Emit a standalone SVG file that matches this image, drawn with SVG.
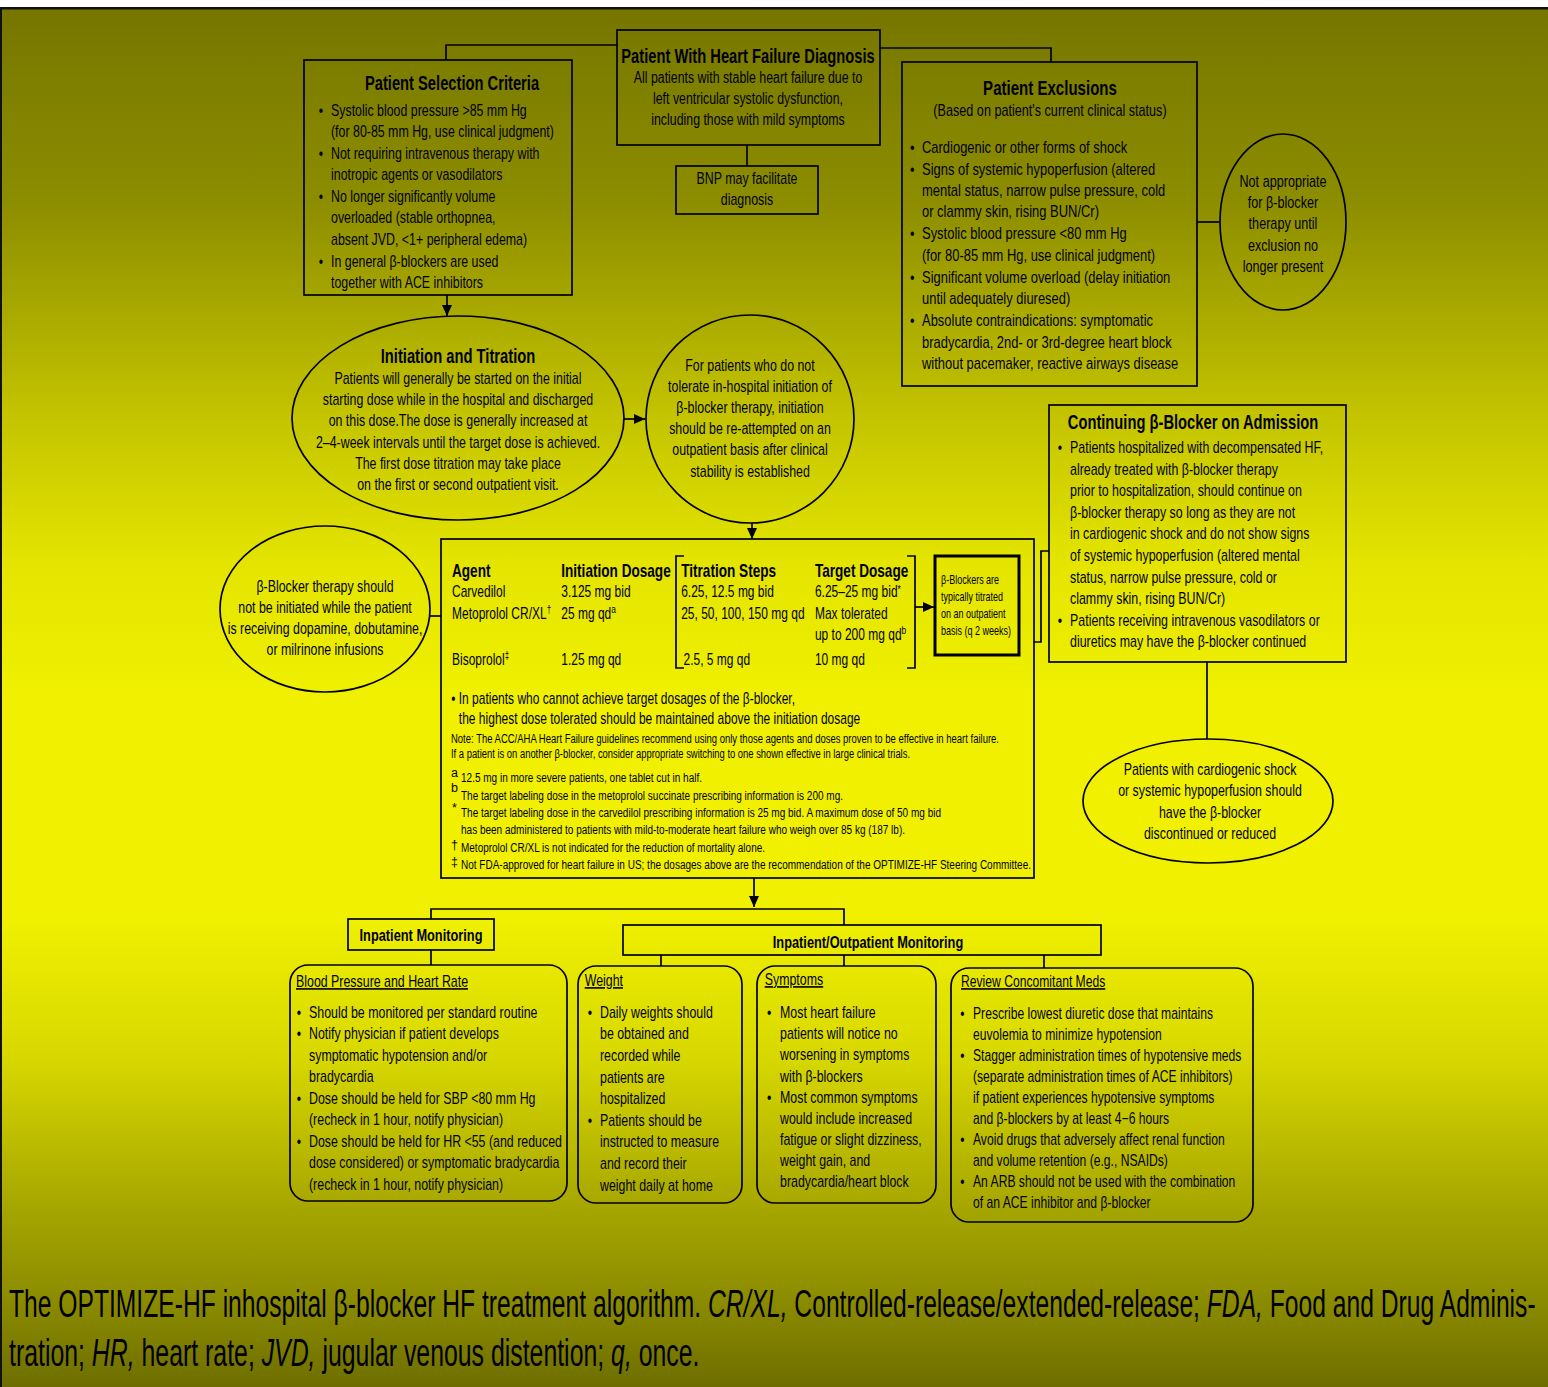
<svg xmlns="http://www.w3.org/2000/svg" width="1548" height="1387" viewBox="0 0 1548 1387">
<defs>
<linearGradient id="bg" gradientUnits="userSpaceOnUse" x1="0" y1="9" x2="0" y2="1387">
<stop offset="0" stop-color="#767600"/>
<stop offset="0.14" stop-color="#8d8d00"/>
<stop offset="0.29" stop-color="#c2c200"/>
<stop offset="0.40" stop-color="#e4e400"/>
<stop offset="0.50" stop-color="#f0f000"/>
<stop offset="0.66" stop-color="#f0f000"/>
<stop offset="0.76" stop-color="#d8d800"/>
<stop offset="0.87" stop-color="#a6a600"/>
<stop offset="0.94" stop-color="#8a8a00"/>
<stop offset="1" stop-color="#6e6e00"/>
</linearGradient>
<marker id="ah" markerUnits="userSpaceOnUse" markerWidth="11" markerHeight="10" refX="11" refY="5" orient="auto">
<path d="M0,0 L11,5 L0,10 z" fill="#000"/>
</marker>
<style>
text{font-family:"Liberation Sans",Arial,sans-serif;fill:#000}
.b{font-size:16.2px}
.h{font-size:19.3px;font-weight:bold}
.th{font-size:17.8px;font-weight:bold}
.tb{font-size:15.7px}
.m{font-size:16.8px;font-weight:bold}
.sm{font-size:12.5px}
.n{font-size:12.5px}
.c{text-anchor:middle}
.u{text-decoration:underline}
.box{fill:none;stroke:#000;stroke-width:1.7}
.thick{fill:none;stroke:#000;stroke-width:3}
.ln{fill:none;stroke:#000;stroke-width:1.7}
.arr{fill:none;stroke:#000;stroke-width:1.7;marker-end:url(#ah)}
.cap{font-size:38px}
.it{font-style:italic}
</style>
</defs>
<rect x="0" y="0" width="1548" height="1387" fill="#ffffff"/>
<rect x="0" y="9" width="1548" height="1378" fill="url(#bg)"/>
<rect x="0" y="7" width="1548" height="2.5" fill="#111"/>
<rect x="0" y="7" width="2" height="1380" fill="#111"/>

<g id="connectors">
<path class="ln" d="M617 45 H446 V60"/>
<path class="ln" d="M880 48 H1051 V62"/>
<path class="ln" d="M747 145 V166"/>
<path class="arr" d="M447 295 V316"/>
<path class="arr" d="M624 419 H645"/>
<path class="arr" d="M752 523 V539"/>
<path class="ln" d="M1197 222 H1220"/>
<path class="ln" d="M430 616 H441"/>
<path class="ln" d="M1049 551 H1041 V642 H1034"/>
<path class="ln" d="M1207 662 V739"/>
<path class="arr" d="M915 607 H934"/>
<path class="arr" d="M754 878 V907"/>
<path class="ln" d="M431 919 V909 H844 V925"/>
<path class="ln" d="M431 950 V965"/>
<path class="ln" d="M661 955 V966"/>
<path class="ln" d="M844 955 V966"/>
<path class="ln" d="M1044 955 V968"/>
</g>

<g id="diagnosis">
<rect class="box" x="617" y="30" width="263" height="115"/>
<g transform="translate(748 0) scale(.763 1)">
<text class="h c" x="0" y="63">Patient With Heart Failure Diagnosis</text>
<text class="b c" x="0" y="83">All patients with stable heart failure due to</text>
<text class="b c" x="0" y="104">left ventricular systolic dysfunction,</text>
<text class="b c" x="0" y="125">including those with mild symptoms</text>
</g>
</g>

<g id="bnp">
<rect class="box" x="676" y="166" width="142" height="48"/>
<g transform="translate(747 0) scale(.765 1)">
<text class="b c" x="0" y="184">BNP may facilitate</text>
<text class="b c" x="0" y="205">diagnosis</text>
</g>
</g>

<g id="selection">
<rect class="box" x="304" y="60" width="268" height="235"/>
<g transform="translate(452 0) scale(.763 1)">
<text class="h c" x="0" y="90">Patient Selection Criteria</text>
</g>
<g transform="translate(331 0) scale(.765 1)">
<text class="b" x="-16" y="116">•</text>
<text class="b" x="0" y="116">Systolic blood pressure &gt;85 mm Hg</text>
<text class="b" x="0" y="137">(for 80-85 mm Hg, use clinical judgment)</text>
<text class="b" x="-16" y="159">•</text>
<text class="b" x="0" y="159">Not requiring intravenous therapy with</text>
<text class="b" x="0" y="180">inotropic agents or vasodilators</text>
<text class="b" x="-16" y="202">•</text>
<text class="b" x="0" y="202">No longer significantly volume</text>
<text class="b" x="0" y="223">overloaded (stable orthopnea,</text>
<text class="b" x="0" y="245">absent JVD, &lt;1+ peripheral edema)</text>
<text class="b" x="-16" y="267">•</text>
<text class="b" x="0" y="267">In general β-blockers are used</text>
<text class="b" x="0" y="288">together with ACE inhibitors</text>
</g>
</g>

<g id="exclusions">
<rect class="box" x="902" y="62" width="295" height="324"/>
<g transform="translate(1050 0) scale(.78 1)">
<text class="h c" x="0" y="95">Patient Exclusions</text>
<text class="b c" x="0" y="116">(Based on patient's current clinical status)</text>
</g>
<g transform="translate(922 0) scale(.8 1)">
<text class="b" x="-15" y="153">•</text>
<text class="b" x="0" y="153">Cardiogenic or other forms of shock</text>
<text class="b" x="-15" y="175">•</text>
<text class="b" x="0" y="175">Signs of systemic hypoperfusion (altered</text>
<text class="b" x="0" y="196">mental status, narrow pulse pressure, cold</text>
<text class="b" x="0" y="217">or clammy skin, rising BUN/Cr)</text>
<text class="b" x="-15" y="239">•</text>
<text class="b" x="0" y="239">Systolic blood pressure &lt;80 mm Hg</text>
<text class="b" x="0" y="261">(for 80-85 mm Hg, use clinical judgment)</text>
<text class="b" x="-15" y="283">•</text>
<text class="b" x="0" y="283">Significant volume overload (delay initiation</text>
<text class="b" x="0" y="304">until adequately diuresed)</text>
<text class="b" x="-15" y="326">•</text>
<text class="b" x="0" y="326">Absolute contraindications: symptomatic</text>
<text class="b" x="0" y="348">bradycardia, 2nd- or 3rd-degree heart block</text>
<text class="b" x="0" y="369">without pacemaker, reactive airways disease</text>
</g>
</g>

<g id="not-appropriate">
<ellipse class="box" cx="1283" cy="222" rx="63" ry="88"/>
<g transform="translate(1283 0) scale(.78 1)">
<text class="b c" x="0" y="187">Not appropriate</text>
<text class="b c" x="0" y="208">for β-blocker</text>
<text class="b c" x="0" y="229">therapy until</text>
<text class="b c" x="0" y="251">exclusion no</text>
<text class="b c" x="0" y="272">longer present</text>
</g>
</g>

<g id="initiation">
<ellipse class="box" cx="458" cy="418" rx="166" ry="102"/>
<g transform="translate(458 0) scale(.765 1)">
<text class="h c" x="0" y="363">Initiation and Titration</text>
<text class="b c" x="0" y="384">Patients will generally be started on the initial</text>
<text class="b c" x="0" y="405">starting dose while in the hospital and discharged</text>
<text class="b c" x="0" y="426">on this dose.The dose is generally increased at</text>
<text class="b c" x="0" y="448">2–4-week intervals until the target dose is achieved.</text>
<text class="b c" x="0" y="469">The first dose titration may take place</text>
<text class="b c" x="0" y="490">on the first or second outpatient visit.</text>
</g>
</g>

<g id="not-tolerate">
<ellipse class="box" cx="750" cy="419" rx="104" ry="104"/>
<g transform="translate(750 0) scale(.765 1)">
<text class="b c" x="0" y="371">For patients who do not</text>
<text class="b c" x="0" y="392">tolerate in-hospital initiation of</text>
<text class="b c" x="0" y="413">β-blocker therapy, initiation</text>
<text class="b c" x="0" y="434">should be re-attempted on an</text>
<text class="b c" x="0" y="455">outpatient basis after clinical</text>
<text class="b c" x="0" y="477">stability is established</text>
</g>
</g>

<g id="inotropes">
<ellipse class="box" cx="325" cy="609" rx="105" ry="83"/>
<g transform="translate(325 0) scale(.765 1)">
<text class="b c" x="0" y="592">β-Blocker therapy should</text>
<text class="b c" x="0" y="613">not be initiated while the patient</text>
<text class="b c" x="0" y="634">is receiving dopamine, dobutamine,</text>
<text class="b c" x="0" y="655">or milrinone infusions</text>
</g>
</g>

<g id="dosing-table">
<rect class="box" x="441" y="539" width="593" height="339"/>
<path class="ln" d="M684 556 H676 V668 H684" stroke-width="2"/>
<path class="ln" d="M907 556 H915 V668 H907" stroke-width="2"/>
<g transform="translate(452 0) scale(.764 1)">
<text class="th" x="0" y="577">Agent</text>
<text class="th" x="143" y="577">Initiation Dosage</text>
<text class="th" x="300" y="577">Titration Steps</text>
<text class="th" x="475" y="577">Target Dosage</text>
<text class="tb" x="0" y="597">Carvedilol</text>
<text class="tb" x="143" y="597">3.125 mg bid</text>
<text class="tb" x="300" y="597">6.25, 12.5 mg bid</text>
<text class="tb" x="475" y="597">6.25–25 mg bid<tspan font-size="11" dy="-4">*</tspan></text>
<text class="tb" x="0" y="619">Metoprolol CR/XL<tspan font-size="10.5" dy="-6">†</tspan></text>
<text class="tb" x="143" y="619">25 mg qd<tspan font-size="11" dy="-6">a</tspan></text>
<text class="tb" x="300" y="619">25, 50, 100, 150 mg qd</text>
<text class="tb" x="475" y="619">Max tolerated</text>
<text class="tb" x="475" y="640">up to 200 mg qd<tspan font-size="11" dy="-6">b</tspan></text>
<text class="tb" x="0" y="665">Bisoprolol<tspan font-size="10.5" dy="-6">‡</tspan></text>
<text class="tb" x="143" y="665">1.25 mg qd</text>
<text class="tb" x="303" y="665">2.5, 5 mg qd</text>
<text class="tb" x="475" y="665">10 mg qd</text>
<text class="tb" x="-1" y="704">• In patients who cannot achieve target dosages of the β-blocker,</text>
<text class="tb" x="9" y="724">the highest dose tolerated should be maintained above the initiation dosage</text>
</g>
<text class="n" x="451" y="743" textLength="548" lengthAdjust="spacingAndGlyphs">Note: The ACC/AHA Heart Failure guidelines recommend using only those agents and doses proven to be effective in heart failure.</text>
<text class="n" x="451" y="758" textLength="459" lengthAdjust="spacingAndGlyphs">If a patient is on another β-blocker, consider appropriate switching to one shown effective in large clinical trials.</text>
<text class="n" x="451" y="777">a</text>
<text class="n" x="461" y="782" textLength="241" lengthAdjust="spacingAndGlyphs">12.5 mg in more severe patients, one tablet cut in half.</text>
<text class="n" x="451" y="792">b</text>
<text class="n" x="461" y="800" textLength="382" lengthAdjust="spacingAndGlyphs">The target labeling dose in the metoprolol succinate prescribing information is 200 mg.</text>
<text class="n" x="452" y="812">*</text>
<text class="n" x="461" y="817" textLength="480" lengthAdjust="spacingAndGlyphs">The target labeling dose in the carvedilol prescribing information is 25 mg bid. A maximum dose of 50 mg bid</text>
<text class="n" x="461" y="834" textLength="444" lengthAdjust="spacingAndGlyphs">has been administered to patients with mild-to-moderate heart failure who weigh over 85 kg (187 lb).</text>
<text class="n" x="451" y="849">†</text>
<text class="n" x="461" y="852" textLength="304" lengthAdjust="spacingAndGlyphs">Metoprolol CR/XL is not indicated for the reduction of mortality alone.</text>
<text class="n" x="451" y="866">‡</text>
<text class="n" x="461" y="869" textLength="570" lengthAdjust="spacingAndGlyphs">Not FDA-approved for heart failure in US; the dosages above are the recommendation of the OPTIMIZE-HF Steering Committee.</text>
</g>

<g id="outpatient-titration">
<rect class="thick" x="935" y="556" width="84" height="99"/>
<g transform="translate(941 0) scale(.72 1)">
<text class="sm" x="0" y="584">β-Blockers are</text>
<text class="sm" x="0" y="601">typically titrated</text>
<text class="sm" x="0" y="618">on an outpatient</text>
<text class="sm" x="0" y="635">basis (q 2 weeks)</text>
</g>
</g>

<g id="continuing">
<rect class="box" x="1049" y="405" width="297" height="257"/>
<g transform="translate(1193 0) scale(.763 1)">
<text class="h c" x="0" y="429">Continuing β-Blocker on Admission</text>
</g>
<g transform="translate(1070 0) scale(.767 1)">
<text class="b" x="-16" y="453">•</text>
<text class="b" x="0" y="453">Patients hospitalized with decompensated HF,</text>
<text class="b" x="0" y="475">already treated with β-blocker therapy</text>
<text class="b" x="0" y="496">prior to hospitalization, should continue on</text>
<text class="b" x="0" y="518">β-blocker therapy so long as they are not</text>
<text class="b" x="0" y="539">in cardiogenic shock and do not show signs</text>
<text class="b" x="0" y="561">of systemic hypoperfusion (altered mental</text>
<text class="b" x="0" y="583">status, narrow pulse pressure, cold or</text>
<text class="b" x="0" y="604">clammy skin, rising BUN/Cr)</text>
<text class="b" x="-16" y="626">•</text>
<text class="b" x="0" y="626">Patients receiving intravenous vasodilators or</text>
<text class="b" x="0" y="647">diuretics may have the β-blocker continued</text>
</g>
</g>

<g id="shock">
<ellipse class="box" cx="1208" cy="801" rx="125" ry="62"/>
<g transform="translate(1210 0) scale(.765 1)">
<text class="b c" x="0" y="775">Patients with cardiogenic shock</text>
<text class="b c" x="0" y="796">or systemic hypoperfusion should</text>
<text class="b c" x="0" y="818">have the β-blocker</text>
<text class="b c" x="0" y="839">discontinued or reduced</text>
</g>
</g>

<g id="inpatient-monitoring">
<rect class="box" x="348" y="919" width="146" height="31"/>
<g transform="translate(421 0) scale(.762 1)">
<text class="m c" x="0" y="941">Inpatient Monitoring</text>
</g>
</g>

<g id="inout-monitoring">
<rect class="box" x="623" y="925" width="478" height="30"/>
<g transform="translate(868 0) scale(.762 1)">
<text class="m c" x="0" y="948">Inpatient/Outpatient Monitoring</text>
</g>
</g>

<g id="bp-hr">
<rect class="box" x="290" y="965" width="277" height="236" rx="18"/>
<g transform="translate(309 0) scale(.765 1)">
<text class="b u" x="-17" y="987">Blood Pressure and Heart Rate</text>
<text class="b" x="-16" y="1018">•</text>
<text class="b" x="0" y="1018">Should be monitored per standard routine</text>
<text class="b" x="-16" y="1039">•</text>
<text class="b" x="0" y="1039">Notify physician if patient develops</text>
<text class="b" x="0" y="1061">symptomatic hypotension and/or</text>
<text class="b" x="0" y="1082">bradycardia</text>
<text class="b" x="-16" y="1104">•</text>
<text class="b" x="0" y="1104">Dose should be held for SBP &lt;80 mm Hg</text>
<text class="b" x="0" y="1125">(recheck in 1 hour, notify physician)</text>
<text class="b" x="-16" y="1147">•</text>
<text class="b" x="0" y="1147">Dose should be held for HR &lt;55 (and reduced</text>
<text class="b" x="0" y="1168">dose considered) or symptomatic bradycardia</text>
<text class="b" x="0" y="1190">(recheck in 1 hour, notify physician)</text>
</g>
</g>

<g id="weight">
<rect class="box" x="578" y="966" width="164" height="237" rx="18"/>
<g transform="translate(600 0) scale(.765 1)">
<text class="b u" x="-20" y="986">Weight</text>
<text class="b" x="-16" y="1018">•</text>
<text class="b" x="0" y="1018">Daily weights should</text>
<text class="b" x="0" y="1039">be obtained and</text>
<text class="b" x="0" y="1061">recorded while</text>
<text class="b" x="0" y="1083">patients are</text>
<text class="b" x="0" y="1104">hospitalized</text>
<text class="b" x="-16" y="1126">•</text>
<text class="b" x="0" y="1126">Patients should be</text>
<text class="b" x="0" y="1147">instructed to measure</text>
<text class="b" x="0" y="1169">and record their</text>
<text class="b" x="0" y="1191">weight daily at home</text>
</g>
</g>

<g id="symptoms">
<rect class="box" x="757" y="966" width="179" height="237" rx="18"/>
<g transform="translate(780 0) scale(.765 1)">
<text class="b u" x="-20" y="985">Symptoms</text>
<text class="b" x="-17" y="1018">•</text>
<text class="b" x="0" y="1018">Most heart failure</text>
<text class="b" x="0" y="1039">patients will notice no</text>
<text class="b" x="0" y="1060">worsening in symptoms</text>
<text class="b" x="0" y="1082">with β-blockers</text>
<text class="b" x="-17" y="1103">•</text>
<text class="b" x="0" y="1103">Most common symptoms</text>
<text class="b" x="0" y="1124">would include increased</text>
<text class="b" x="0" y="1145">fatigue or slight dizziness,</text>
<text class="b" x="0" y="1166">weight gain, and</text>
<text class="b" x="0" y="1187">bradycardia/heart block</text>
</g>
</g>

<g id="meds">
<rect class="box" x="951" y="968" width="302" height="254" rx="18"/>
<g transform="translate(973 0) scale(.75 1)">
<text class="b u" x="-16" y="987">Review Concomitant Meds</text>
<text class="b" x="-17" y="1019">•</text>
<text class="b" x="0" y="1019">Prescribe lowest diuretic dose that maintains</text>
<text class="b" x="0" y="1040">euvolemia to minimize hypotension</text>
<text class="b" x="-17" y="1061">•</text>
<text class="b" x="0" y="1061">Stagger administration times of hypotensive meds</text>
<text class="b" x="0" y="1082">(separate administration times of ACE inhibitors)</text>
<text class="b" x="0" y="1103">if patient experiences hypotensive symptoms</text>
<text class="b" x="0" y="1124">and β-blockers by at least 4−6 hours</text>
<text class="b" x="-17" y="1145">•</text>
<text class="b" x="0" y="1145">Avoid drugs that adversely affect renal function</text>
<text class="b" x="0" y="1166">and volume retention (e.g., NSAIDs)</text>
<text class="b" x="-17" y="1187">•</text>
<text class="b" x="0" y="1187">An ARB should not be used with the combination</text>
<text class="b" x="0" y="1208">of an ACE inhibitor and β-blocker</text>
</g>
</g>

<g id="caption">
<text class="cap" transform="translate(9 1317) scale(.649 1)">The OPTIMIZE-HF inhospital β-blocker HF treatment algorithm. <tspan class="it">CR/XL,</tspan> Controlled-release/extended-release; <tspan class="it">FDA,</tspan> Food and Drug Adminis-</text>
<text class="cap" transform="translate(9 1366) scale(.654 1)">tration; <tspan class="it">HR,</tspan> heart rate; <tspan class="it">JVD,</tspan> jugular venous distention; <tspan class="it">q,</tspan> once.</text>
</g>
</svg>
